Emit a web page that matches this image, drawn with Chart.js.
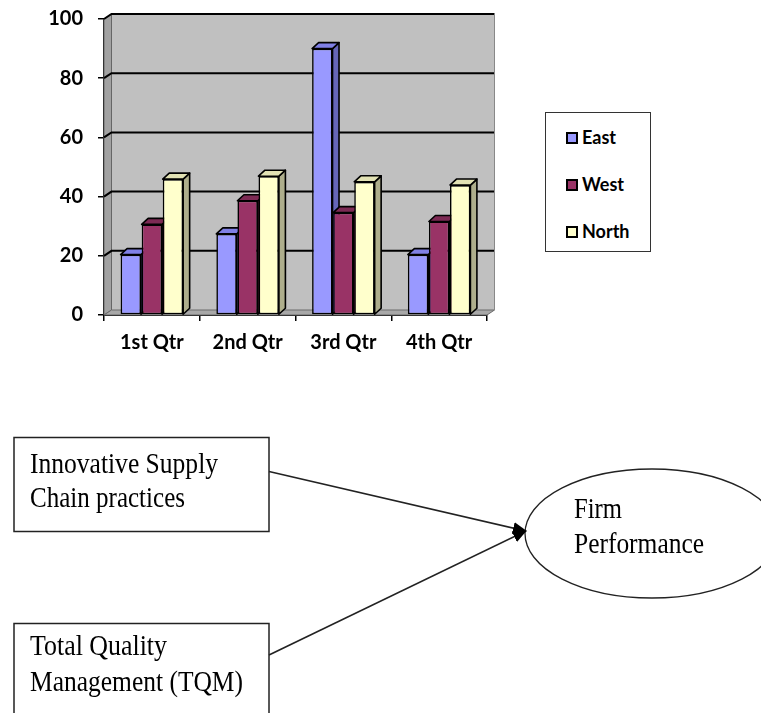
<!DOCTYPE html>
<html>
<head>
<meta charset="utf-8">
<script src="https://cdn.jsdelivr.net/npm/chart.js@4.4.1/dist/chart.umd.min.js"></script>
<style>
  html, body { margin: 0; padding: 0; background: #fff; }
  #wrap { position: relative; width: 761px; height: 713px; overflow: hidden; }
  #chart { position: absolute; left: 0; top: -8px; }
  #legend {
    position: absolute; left: 545px; top: 112px; width: 106px; height: 140px;
    border: 1px solid #333; box-sizing: border-box; background: #fff;
    font-family: Lato, "Liberation Sans", sans-serif; font-weight: bold; font-size: 18px; color: #000;
  }
  .item { position: absolute; left: 20px; height: 20px; line-height: 20px; white-space: nowrap; }
  .swatch { display: inline-block; width: 8px; height: 8px; border: 2px solid #000; vertical-align: middle; margin-right: 4px; position: relative; top: -1px; }
  #diagram { position: absolute; left: 0; top: 0; }
  #diagram text { font-family: "Liberation Serif", "Times New Roman", serif; font-size: 30px; fill: #000; }
</style>
</head>
<body>
<div id="wrap">
  <canvas id="chart" width="761" height="388"></canvas>
  <div id="legend"></div>
  <svg id="diagram" width="761" height="713" xmlns="http://www.w3.org/2000/svg">
    <defs>
      <marker id="head" markerWidth="14" markerHeight="12" refX="13" refY="6" orient="auto" markerUnits="userSpaceOnUse">
        <path d="M0,0 L14,6 L0,12 Z" fill="#000"/>
      </marker>
    </defs>
    <rect x="14" y="437.5" width="255" height="94" fill="#fff" stroke="#222" stroke-width="1.5"/>
    <text x="30" y="473" textLength="188" lengthAdjust="spacingAndGlyphs">Innovative Supply</text>
    <text x="30" y="507" textLength="155" lengthAdjust="spacingAndGlyphs">Chain practices</text>

    <rect x="14" y="623.5" width="255" height="110" fill="#fff" stroke="#222" stroke-width="1.5"/>
    <text x="30" y="655" textLength="137" lengthAdjust="spacingAndGlyphs">Total Quality</text>
    <text x="30" y="691" textLength="213" lengthAdjust="spacingAndGlyphs">Management (TQM)</text>

    <ellipse cx="652" cy="533.5" rx="127" ry="64.5" fill="#fff" stroke="#222" stroke-width="1.3"/>
    <text x="574" y="518" textLength="48" lengthAdjust="spacingAndGlyphs">Firm</text>
    <text x="574" y="553" textLength="130" lengthAdjust="spacingAndGlyphs">Performance</text>

    <line x1="269" y1="471.5" x2="526" y2="531" stroke="#222" stroke-width="1.6" marker-end="url(#head)"/>
    <line x1="269" y1="655" x2="526" y2="531" stroke="#222" stroke-width="1.6" marker-end="url(#head)"/>
  </svg>
</div>
<script>
// Quarterly figures by region
const categories = ['1st Qtr', '2nd Qtr', '3rd Qtr', '4th Qtr'];
const seriesNames = ['East', 'West', 'North'];
const eastValues = [20.4, 27.4, 90, 20.4];
const westValues = [30.6, 38.6, 34.6, 31.6];
const northValues = [45.9, 46.9, 45, 43.9];
const yTicks = [0, 20, 40, 60, 80, 100];

// Face colours: front, top, side
const palette = [
  { front: '#9999FF', top: '#8080E6', side: '#6666B8' },
  { front: '#993366', top: '#7D2A54', side: '#6E2449' },
  { front: '#FFFFCC', top: '#E2E2B4', side: '#AEAE8C' }
];

const WALL_DX = 7.5, WALL_DY = 5;   // depth of walls / floor
const BAR_DX = 6.5, BAR_DY = 6;     // depth of each column

function poly(ctx, pts, fill, stroke, lw) {
  ctx.beginPath();
  ctx.moveTo(pts[0][0], pts[0][1]);
  for (let i = 1; i < pts.length; i++) ctx.lineTo(pts[i][0], pts[i][1]);
  ctx.closePath();
  if (fill) { ctx.fillStyle = fill; ctx.fill(); }
  if (stroke) { ctx.strokeStyle = stroke; ctx.lineWidth = lw || 1; ctx.stroke(); }
}

const threeD = {
  id: 'threeD',
  beforeDatasetsDraw(chart) {
    const ctx = chart.ctx;
    const a = chart.chartArea;
    const y = chart.scales.y;
    const L = a.left, R = a.right, T = a.top, B = a.bottom;
    ctx.save();
    // back wall
    poly(ctx, [[L + WALL_DX, T - WALL_DY], [R + WALL_DX, T - WALL_DY], [R + WALL_DX, B - WALL_DY], [L + WALL_DX, B - WALL_DY]], '#C0C0C0', null);
    // left side wall
    poly(ctx, [[L, T], [L + WALL_DX, T - WALL_DY], [L + WALL_DX, B - WALL_DY], [L, B]], '#A2A2A2', '#666', 1);
    // floor
    poly(ctx, [[L, B], [L + WALL_DX, B - WALL_DY], [R + WALL_DX, B - WALL_DY], [R, B]], '#A8A8A8', '#6a6a6a', 1);
    // gridlines on the back wall and their run across the side wall
    ctx.strokeStyle = '#000';
    ctx.lineWidth = 2;
    yTicks.forEach(v => {
      if (v === 0) return;
      const py = y.getPixelForValue(v);
      ctx.beginPath();
      ctx.moveTo(L, py);
      ctx.lineTo(L + WALL_DX, py - WALL_DY);
      ctx.lineTo(R + WALL_DX, py - WALL_DY);
      ctx.stroke();
    });
    // right edge of the back wall
    ctx.strokeStyle = '#888';
    ctx.lineWidth = 1;
    ctx.beginPath();
    ctx.moveTo(R + WALL_DX, T - WALL_DY);
    ctx.lineTo(R + WALL_DX, B - WALL_DY);
    ctx.stroke();

    // side and top faces of every column, left to right, so that each
    // column's front face (drawn afterwards by the library) hides what is behind it
    ctx.lineJoin = 'round';
    const metas = chart.getSortedVisibleDatasetMetas().slice().sort((m1, m2) => m1.index - m2.index);
    categories.forEach((_, ci) => {
      metas.forEach(meta => {
        const bar = meta.data[ci];
        if (!bar) return;
        const colors = palette[meta.index];
        const p = bar.getProps(['x', 'y', 'base', 'width'], true);
        const l = p.x - p.width / 2, r = p.x + p.width / 2, t = p.y, b = p.base;
        poly(ctx, [[r, t], [r + BAR_DX, t - BAR_DY], [r + BAR_DX, b - BAR_DY], [r, b]], colors.side, '#000', 1.6);
        poly(ctx, [[l, t], [l + BAR_DX, t - BAR_DY], [r + BAR_DX, t - BAR_DY], [r, t]], colors.top, '#000', 1.6);
      });
    });
    ctx.restore();
  }
};

const seriesValues = [eastValues, westValues, northValues];
const datasets = seriesNames.map((name, i) => ({
  label: name,
  data: seriesValues[i],
  backgroundColor: palette[i].front,
  borderColor: '#000',
  borderWidth: 1.6,
  borderSkipped: false
}));

const tickFont = { family: 'Lato, "Liberation Sans", sans-serif', size: 20, weight: 'bold' };

new Chart(document.getElementById('chart'), {
  type: 'bar',
  data: { labels: categories, datasets },
  options: {
    responsive: false,
    animation: false,
    layout: { padding: { left: 0, top: 25, right: 274, bottom: 0 } },
    categoryPercentage: 0.66,
    barPercentage: 0.97,
    plugins: { legend: { display: false }, tooltip: { enabled: false } },
    scales: {
      x: {
        grid: { offset: true, drawOnChartArea: false, drawTicks: true, tickLength: 6, color: '#000', lineWidth: 1.5 },
        border: { display: true, color: '#000', width: 2 },
        ticks: { font: tickFont, color: '#000', padding: 10, maxRotation: 0 },
        afterFit(scale) { scale.height = 65; }
      },
      y: {
        min: 0, max: 100,
        grid: { drawOnChartArea: false, drawTicks: true, tickLength: 6, color: '#000', lineWidth: 1.5 },
        border: { display: true, color: '#000', width: 2 },
        ticks: {
          font: tickFont, color: '#000', padding: 15, stepSize: 20,
          callback: v => yTicks.includes(v) ? String(v) : ''
        },
        afterFit(scale) { scale.width = 104; }
      }
    }
  },
  plugins: [threeD]
});

// Legend box built from the series
const legend = document.getElementById('legend');
const itemTops = [14, 61, 108];
seriesNames.forEach((name, i) => {
  const div = document.createElement('div');
  div.className = 'item';
  div.style.top = itemTops[i] + 'px';
  const sw = document.createElement('span');
  sw.className = 'swatch';
  sw.style.background = palette[i].front;
  div.appendChild(sw);
  div.appendChild(document.createTextNode(name));
  legend.appendChild(div);
});
</script>
</body>
</html>
